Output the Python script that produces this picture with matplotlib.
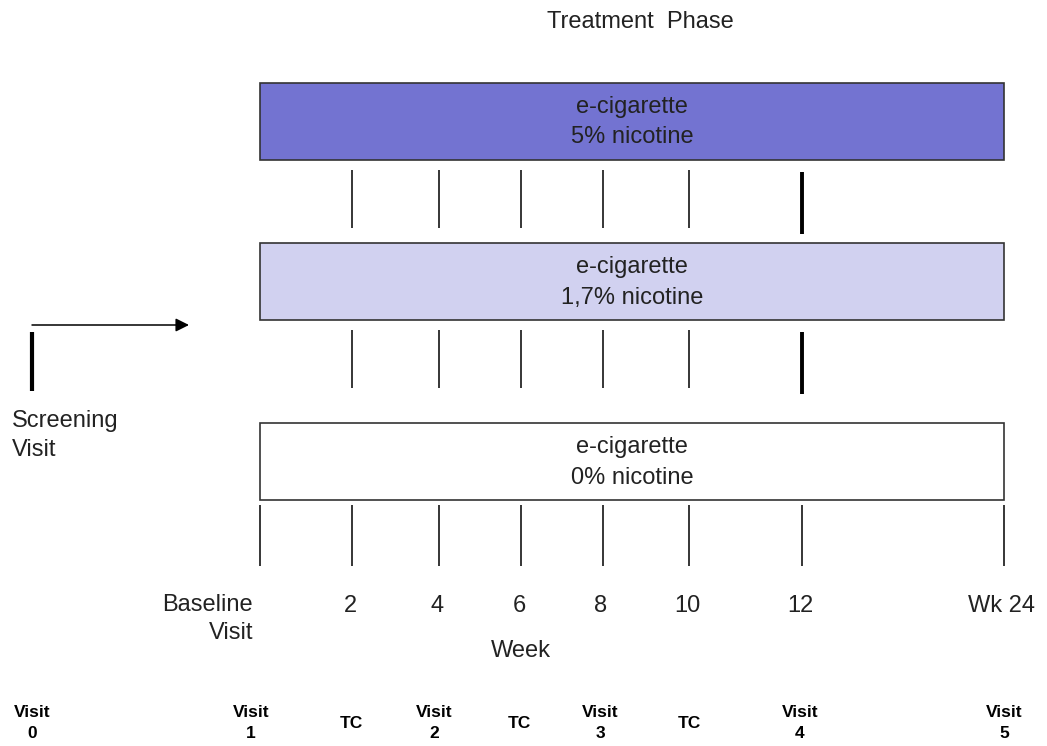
import matplotlib.pyplot as plt

# study arms (top to bottom)
arms = ['e-cigarette\n5% nicotine', 'e-cigarette\n1,7% nicotine', 'e-cigarette\n0% nicotine']
arm_colors = ['#7373D1', '#D1D1F0', '#FFFFFF']

# week axis labels
weeks = ['Baseline\nVisit', '2', '4', '6', '8', '10', '12', 'Wk 24']

# visit schedule row
visits = ['Visit\n0', 'Visit\n1', 'TC', 'Visit\n2', 'TC', 'Visit\n3', 'TC', 'Visit\n4', 'Visit\n5']

# schematic layout (pixels)
week_x = [260, 352, 439, 521, 603, 689, 802, 1004]
visit_x = [32, 251, 351, 434, 519, 600, 689, 800, 1004]
box_y = [121, 281.5, 461.5]
box_h = 77

font = ['Liberation Sans', 'DejaVu Sans']
bold_font = ['Liberation Sans Narrow', 'Liberation Sans', 'DejaVu Sans']


def main():
    fig = plt.figure(figsize=(10.47, 7.46), dpi=100)
    ax = fig.add_axes([0, 0, 1, 1])
    ax.set_xlim(0, 1047)
    ax.set_ylim(746, 0)
    ax.axis('off')

    left, right = week_x[0], week_x[-1]

    # arm boxes
    ax.barh(box_y, right - left, height=box_h, left=left, color=arm_colors,
            edgecolor='#333333', linewidth=1.2)
    for y, label in zip(box_y, arms):
        ax.text((left + right) / 2, y + 1, label, ha='center', va='center',
                fontsize=17, family=font, color='#222222', linespacing=1.5)

    # tick lines between boxes
    inner = week_x[1:-1]
    for y0, y1 in [(170, 228), (330, 388)]:
        ax.vlines(inner[:-1], y0, y1, color='black', linewidth=1.1)
        ax.vlines(inner[-1], y0 + 2, y1 + 6, color='black', linewidth=2.8)
    ax.vlines(week_x, 505, 566, color='black', linewidth=1.1)

    # week labels
    ax.text(week_x[0] - 7, 594, weeks[0], ha='right', va='top', fontsize=17,
            family=font, color='#222222', linespacing=1.38)
    for x, label in zip(week_x[1:], weeks[1:]):
        ax.text(x - 2, 606, label, ha='center', va='center', fontsize=17,
                family=font, color='#222222')
    ax.text(521, 651, 'Week', ha='center', va='center', fontsize=17,
            family=font, color='#222222')

    ax.text(640, 22, 'Treatment  Phase', ha='center', va='center', fontsize=17,
            family=font, color='#222222')

    # screening
    ax.annotate('', xy=(189, 325), xytext=(32, 325),
                arrowprops=dict(arrowstyle='-|>', color='black', lw=1.1,
                                mutation_scale=20, shrinkA=0, shrinkB=0))
    ax.vlines(32, 332, 391, color='black', linewidth=3)
    ax.text(12, 410, 'Screening\nVisit', ha='left', va='top', fontsize=17,
            family=font, color='#222222', linespacing=1.42)

    # visit schedule
    for x, label in zip(visit_x, visits):
        ax.text(x, 723, label, ha='center', va='center', fontsize=12.5,
                family=bold_font, fontweight='bold', color='black',
                linespacing=1.45)

    fig.savefig('out.png', dpi=100, facecolor='white')


if __name__ == '__main__':
    main()
